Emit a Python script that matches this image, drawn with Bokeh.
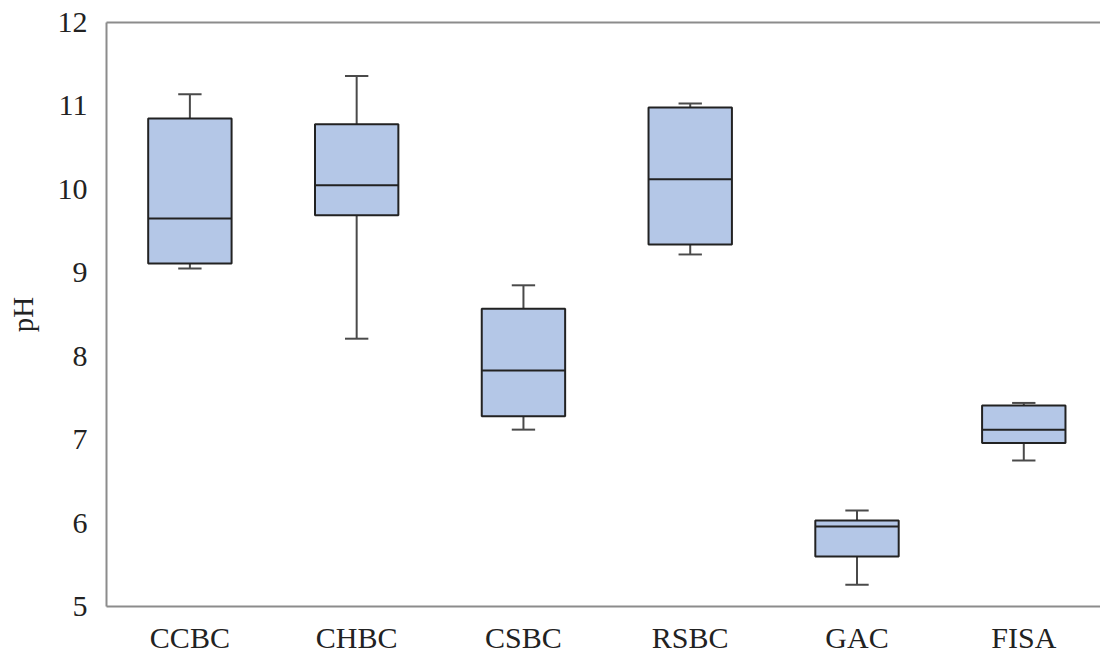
from bokeh.plotting import figure
from bokeh.models import Range1d, FixedTicker, LinearAxis
from bokeh.embed import file_html
from bokeh.resources import INLINE

categories = ["CCBC", "CHBC", "CSBC", "RSBC", "GAC", "FISA"]
lower_whisker = [9.05, 8.21, 7.12, 9.22, 5.26, 6.75]
q1 = [9.11, 9.69, 7.28, 9.34, 5.60, 6.96]
median = [9.65, 10.05, 7.83, 10.12, 5.96, 7.12]
q3 = [10.85, 10.78, 8.57, 10.98, 6.03, 7.41]
upper_whisker = [11.14, 11.36, 8.85, 11.03, 6.15, 7.44]
y_ticks = [5, 6, 7, 8, 9, 10, 11, 12]

xs = list(range(len(categories)))
FONT = "Liberation Serif"

p = figure(width=1100, height=656, output_backend="svg", toolbar_location=None,
           x_range=Range1d(-0.5, 5.46), y_range=Range1d(5, 12),
           min_border_left=106, min_border_right=0, min_border_top=22, min_border_bottom=50,
           x_axis_location="below")
p.outline_line_color = None
p.grid.visible = False
p.background_fill_color = "white"
p.border_fill_color = "white"

cap = 0.07
hw = 0.25
wcol = "#4a4a4a"
# whiskers
p.segment(x0=xs, y0=q3, x1=xs, y1=upper_whisker, line_color=wcol, line_width=2)
p.segment(x0=xs, y0=q1, x1=xs, y1=lower_whisker, line_color=wcol, line_width=2)
p.segment(x0=[x - cap for x in xs], y0=upper_whisker, x1=[x + cap for x in xs], y1=upper_whisker,
          line_color=wcol, line_width=2)
p.segment(x0=[x - cap for x in xs], y0=lower_whisker, x1=[x + cap for x in xs], y1=lower_whisker,
          line_color=wcol, line_width=2)
# boxes
p.vbar(x=xs, width=2 * hw, bottom=q1, top=q3, fill_color="#b4c7e7", line_color="#222222", line_width=2)
# medians
p.segment(x0=[x - hw for x in xs], y0=median, x1=[x + hw for x in xs], y1=median,
          line_color="#222222", line_width=2)

# axes styling
p.xaxis.ticker = FixedTicker(ticks=xs)
p.xaxis.major_label_overrides = {i: c for i, c in enumerate(categories)}
p.yaxis.ticker = FixedTicker(ticks=y_ticks)
for ax in [p.xaxis[0], p.yaxis[0]]:
    ax.axis_line_color = "#8c8c8c"
    ax.axis_line_width = 2
    ax.major_tick_line_color = None
    ax.minor_tick_line_color = None
    ax.major_label_text_font = FONT
    ax.major_label_text_font_size = "30px"
    ax.major_label_text_color = "#222222"
p.yaxis.major_label_standoff = 13
p.xaxis.major_label_standoff = 8
p.yaxis.axis_label = "pH"
p.yaxis.axis_label_text_font = FONT
p.yaxis.axis_label_text_font_style = "normal"
p.yaxis.axis_label_text_font_size = "29px"
p.yaxis.axis_label_text_color = "#222222"
p.yaxis.axis_label_standoff = 16

top_axis = LinearAxis(ticker=FixedTicker(ticks=[]), axis_line_color="#8c8c8c", axis_line_width=2,
                      major_tick_line_color=None, minor_tick_line_color=None,
                      major_label_text_font_size="0px")
p.add_layout(top_axis, "above")

open("out.html", "w").write(file_html(p, INLINE))
